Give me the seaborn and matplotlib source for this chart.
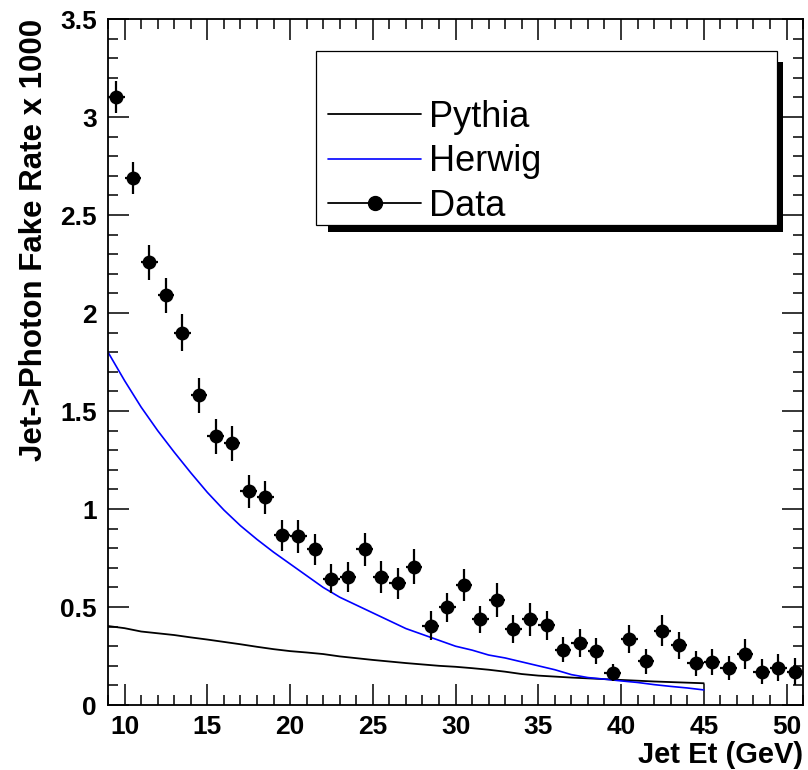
import matplotlib
matplotlib.use("Agg")
import matplotlib.pyplot as plt
from matplotlib.lines import Line2D
from matplotlib.patches import Rectangle, Polygon
from matplotlib.ticker import MultipleLocator
import seaborn as sns

# Measured fake rate (x 1000) in 1 GeV jet Et bins
data_et = [9.5, 10.5, 11.5, 12.5, 13.5, 14.5, 15.5, 16.5, 17.5, 18.5,
           19.5, 20.5, 21.5, 22.5, 23.5, 24.5, 25.5, 26.5, 27.5, 28.5,
           29.5, 30.5, 31.5, 32.5, 33.5, 34.5, 35.5, 36.5, 37.5, 38.5,
           39.5, 40.5, 41.5, 42.5, 43.5, 44.5, 45.5, 46.5, 47.5, 48.5,
           49.5, 50.5]
data_rate = [3.10, 2.69, 2.26, 2.09, 1.90, 1.58, 1.37, 1.335, 1.09, 1.06,
             0.865, 0.86, 0.795, 0.643, 0.655, 0.795, 0.652, 0.62, 0.706, 0.405,
             0.499, 0.612, 0.437, 0.538, 0.387, 0.437, 0.407, 0.283, 0.316, 0.275,
             0.165, 0.337, 0.223, 0.38, 0.305, 0.214, 0.22, 0.19, 0.26, 0.17,
             0.19, 0.17]
data_err = [0.082, 0.083, 0.089, 0.091, 0.095, 0.089, 0.089, 0.089, 0.085, 0.085,
            0.080, 0.082, 0.079, 0.074, 0.077, 0.085, 0.081, 0.081, 0.090, 0.075,
            0.075, 0.082, 0.068, 0.087, 0.072, 0.083, 0.075, 0.065, 0.070, 0.066,
            0.045, 0.070, 0.065, 0.081, 0.070, 0.064, 0.068, 0.061, 0.075, 0.065,
            0.068, 0.070]
bin_half_width = 0.5

# Monte Carlo predictions
mc_et = [9, 10, 11, 12, 13, 14, 15, 16, 17, 18, 19, 20, 21, 22, 23, 24, 25,
         26, 27, 28, 29, 30, 31, 32, 33, 34, 35, 36, 37, 38, 39, 40, 41, 42,
         43, 44, 45]
pythia_rate = [0.403, 0.392, 0.375, 0.366, 0.357, 0.345, 0.334, 0.322, 0.310,
               0.297, 0.285, 0.275, 0.268, 0.260, 0.248, 0.239, 0.230, 0.222,
               0.214, 0.207, 0.200, 0.195, 0.188, 0.180, 0.170, 0.158, 0.150,
               0.145, 0.140, 0.136, 0.132, 0.128, 0.124, 0.120, 0.117, 0.114,
               0.111]
herwig_rate = [1.80, 1.655, 1.52, 1.40, 1.29, 1.185, 1.085, 0.995, 0.915, 0.845,
               0.78, 0.72, 0.66, 0.60, 0.55, 0.51, 0.47, 0.43, 0.39, 0.36,
               0.33, 0.30, 0.28, 0.255, 0.24, 0.22, 0.20, 0.18, 0.155, 0.14,
               0.132, 0.123, 0.115, 0.104, 0.095, 0.087, 0.077]

x_ticks = [10, 15, 20, 25, 30, 35, 40, 45, 50]
x_tick_labels = ["10", "15", "20", "25", "30", "35", "40", "45", "50"]
y_ticks = [0, 0.5, 1, 1.5, 2, 2.5, 3, 3.5]
y_tick_labels = ["0", "0.5", "1", "1.5", "2", "2.5", "3", "3.5"]

series_labels = ["Pythia", "Herwig", "Data"]

sns.set_theme(style="white")
plt.rcParams["font.family"] = ["Liberation Sans", "DejaVu Sans"]
plt.rcParams["text.color"] = "black"
plt.rcParams["axes.labelcolor"] = "black"
plt.rcParams["xtick.color"] = "black"
plt.rcParams["ytick.color"] = "black"

fig = plt.figure(figsize=(8.08, 7.70), dpi=100)
ax = fig.add_axes([0.1337, 0.0844, 0.8602, 0.8909])

sns.lineplot(x=mc_et, y=pythia_rate, color="black", linewidth=1.3, ax=ax)
sns.lineplot(x=mc_et, y=herwig_rate, color="#0000ff", linewidth=1.2, ax=ax)

ax.errorbar(data_et, data_rate, yerr=data_err, xerr=bin_half_width,
            fmt="none", ecolor="black", elinewidth=1.6, capsize=0, zorder=4)
sns.scatterplot(x=data_et, y=data_rate, color="black", s=10 ** 2,
                edgecolor="black", linewidth=0, zorder=5, ax=ax)

ax.set_xlim(9, 51)
ax.set_ylim(0, 3.5)

ax.set_xticks(x_ticks)
ax.set_xticklabels(x_tick_labels)
ax.set_yticks(y_ticks)
ax.set_yticklabels(y_tick_labels)
ax.xaxis.set_minor_locator(MultipleLocator(1))
ax.yaxis.set_minor_locator(MultipleLocator(0.1))

ax.tick_params(which="both", direction="in", bottom=True, left=True,
               top=True, right=True, color="black", width=1.1)
ax.tick_params(which="major", length=15)
ax.tick_params(which="minor", length=7.5)
ax.tick_params(axis="x", which="major", pad=7, labelsize=19,
               labelcolor="black")
ax.tick_params(axis="y", which="major", pad=8, labelsize=19,
               labelcolor="black")
for lab in ax.get_xticklabels() + ax.get_yticklabels():
    lab.set_fontweight("bold")

for spine in ax.spines.values():
    spine.set_visible(True)
    spine.set_color("black")
    spine.set_linewidth(1.3)

ax.set_xlabel("Jet Et (GeV)", fontsize=21, fontweight="bold", loc="right",
              color="black")
ax.xaxis.set_label_coords(1.0, -0.052)
ax.set_ylabel("Jet->Photon Fake Rate x 1000", fontsize=22.5,
              fontweight="bold", loc="top", color="black")
ax.yaxis.set_label_coords(-0.085, 1.0)

# Legend frame with drop shadow
bx0, bx1, by0, by1 = 0.299, 0.963, 0.700, 0.953
px_x = 1.0 / 695.0
px_y = 1.0 / 686.0
shadow = Polygon([(bx0 + 12 * px_x, by0), (bx0 + 12 * px_x, by0 - 7 * px_y),
                  (bx1 + 6 * px_x, by0 - 7 * px_y), (bx1 + 6 * px_x, by1 - 11 * px_y),
                  (bx1, by1 - 11 * px_y), (bx1, by0)],
                 closed=True, transform=ax.transAxes, facecolor="black",
                 edgecolor="none", zorder=6)
frame = Rectangle((bx0, by0), bx1 - bx0, by1 - by0, transform=ax.transAxes,
                  facecolor="white", edgecolor="black", linewidth=0.9, zorder=7)
ax.add_patch(shadow)
ax.add_patch(frame)

handles = [Line2D([], [], color="black", linewidth=1.3),
           Line2D([], [], color="#0000ff", linewidth=1.2),
           Line2D([], [], color="black", linewidth=1.3, marker="o",
                  markersize=10)]
leg = ax.legend(handles, series_labels, loc="upper left",
                bbox_to_anchor=(0.3165, 0.882), frameon=False, fontsize=26,
                handlelength=2.575, handletextpad=0.22, labelspacing=0.26,
                borderpad=0, borderaxespad=0, numpoints=1, labelcolor="black")
leg.set_zorder(8)

fig.savefig("out.png", dpi=100)
